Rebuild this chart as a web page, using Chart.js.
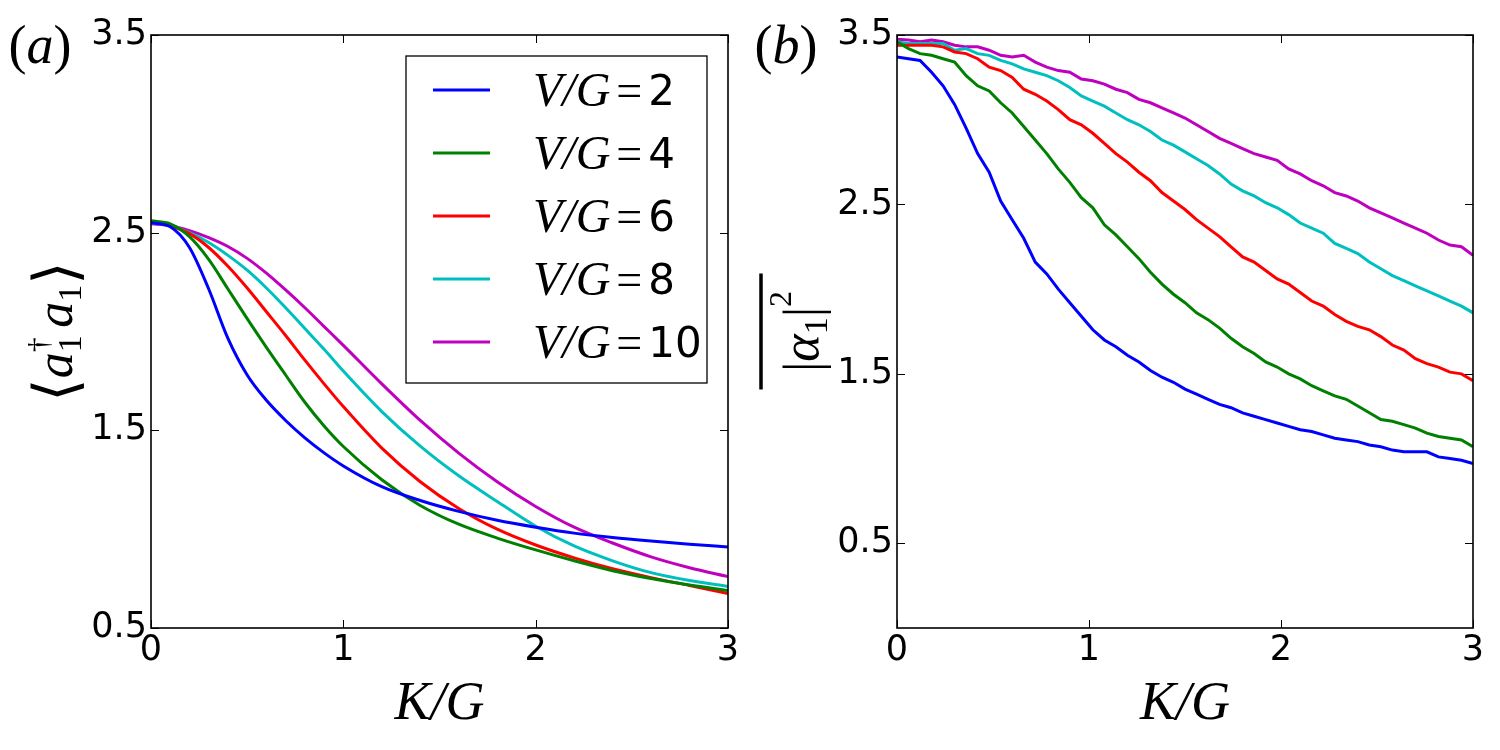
<!DOCTYPE html>
<html>
<head>
<meta charset="utf-8">
<script src="https://cdn.jsdelivr.net/npm/chart.js@4.4.0/dist/chart.umd.min.js"></script>
<style>
html, body { margin: 0; padding: 0; background: #fff; }
#wrap { position: relative; width: 1500px; height: 750px; }
.panel { position: absolute; top: 0; width: 750px; height: 750px; }
</style>
</head>
<body>
<div id="wrap">
  <div class="panel" style="left:0"><canvas id="chartA" width="750" height="750"></canvas></div>
  <div class="panel" style="left:750px"><canvas id="chartB" width="750" height="750"></canvas></div>
</div>
<script>
// Legend labels and colours (V/G values)
var vgValues = ['2', '4', '6', '8', '10'];
var lineColors = ['#0000ff', '#008000', '#ff0000', '#00bfbf', '#bf00bf'];

// Axis ticks
var xTicks = [0, 1, 2, 3];
var yTicksA = [0.5, 1.5, 2.5, 3.5];
var yTicksB = [0.5, 1.5, 2.5, 3.5];

// Panel (a): <a1^dagger a1> vs K/G
var kgA = [0, 0.1, 0.2, 0.3, 0.4, 0.5, 0.6, 0.7, 0.8, 0.9, 1.0, 1.2, 1.4, 1.6, 1.8, 2.0, 2.2, 2.4, 2.6, 2.8, 3.0];
var occ2  = [2.55, 2.53, 2.425, 2.215, 1.965, 1.78, 1.652, 1.55, 1.462, 1.386, 1.32, 1.215, 1.145, 1.09, 1.045, 1.01, 0.98, 0.958, 0.94, 0.924, 0.91];
var occ4  = [2.56, 2.545, 2.48, 2.365, 2.215, 2.065, 1.92, 1.78, 1.642, 1.522, 1.418, 1.25, 1.12, 1.025, 0.955, 0.895, 0.84, 0.79, 0.75, 0.717, 0.69];
var occ6  = [2.555, 2.535, 2.495, 2.425, 2.33, 2.22, 2.10, 1.98, 1.855, 1.735, 1.62, 1.41, 1.24, 1.105, 1.0, 0.92, 0.855, 0.80, 0.755, 0.715, 0.675];
var occ8  = [2.55, 2.535, 2.50, 2.45, 2.385, 2.31, 2.22, 2.12, 2.015, 1.91, 1.80, 1.595, 1.42, 1.27, 1.14, 1.015, 0.915, 0.84, 0.78, 0.74, 0.71];
var occ10 = [2.545, 2.535, 2.51, 2.475, 2.43, 2.37, 2.295, 2.21, 2.12, 2.025, 1.93, 1.735, 1.55, 1.385, 1.24, 1.115, 1.01, 0.93, 0.86, 0.805, 0.76];

// Panel (b): mean |alpha1|^2 vs K/G
var kgB = [0, 0.06, 0.12, 0.18, 0.24, 0.30, 0.36, 0.42, 0.48, 0.54, 0.60, 0.66, 0.72, 0.78, 0.84, 0.90, 0.96,
           1.02, 1.08, 1.14, 1.20, 1.26, 1.32, 1.38, 1.44, 1.50, 1.56, 1.62, 1.68, 1.74, 1.80, 1.86, 1.92, 1.98,
           2.04, 2.10, 2.16, 2.22, 2.28, 2.34, 2.40, 2.46, 2.52, 2.58, 2.64, 2.70, 2.76, 2.82, 2.88, 2.94, 3.00];
var amp2  = [3.37, 3.36, 3.35, 3.28, 3.20, 3.09, 2.95, 2.80, 2.69, 2.52, 2.41, 2.30, 2.16, 2.09, 2.00, 1.92, 1.84,
             1.76, 1.70, 1.66, 1.61, 1.57, 1.52, 1.48, 1.45, 1.41, 1.38, 1.35, 1.32, 1.30, 1.27, 1.25, 1.23, 1.21,
             1.19, 1.17, 1.16, 1.14, 1.12, 1.11, 1.10, 1.08, 1.07, 1.05, 1.04, 1.04, 1.04, 1.01, 1.00, 0.99, 0.97];
var amp4  = [3.46, 3.42, 3.39, 3.38, 3.36, 3.34, 3.26, 3.20, 3.17, 3.10, 3.04, 2.96, 2.88, 2.80, 2.71, 2.63, 2.54,
             2.48, 2.38, 2.32, 2.25, 2.18, 2.10, 2.03, 1.97, 1.92, 1.86, 1.82, 1.77, 1.71, 1.66, 1.62, 1.57, 1.54,
             1.50, 1.47, 1.43, 1.40, 1.37, 1.35, 1.31, 1.27, 1.23, 1.22, 1.20, 1.18, 1.15, 1.13, 1.12, 1.11, 1.07];
var amp6  = [3.44, 3.44, 3.44, 3.44, 3.43, 3.40, 3.39, 3.36, 3.31, 3.29, 3.25, 3.18, 3.15, 3.11, 3.06, 3.00, 2.97,
             2.92, 2.86, 2.80, 2.75, 2.69, 2.64, 2.57, 2.52, 2.47, 2.41, 2.36, 2.31, 2.25, 2.19, 2.16, 2.11, 2.06,
             2.03, 1.98, 1.93, 1.90, 1.85, 1.81, 1.78, 1.76, 1.72, 1.67, 1.64, 1.59, 1.56, 1.54, 1.51, 1.50, 1.46];
var amp8  = [3.46, 3.45, 3.45, 3.45, 3.45, 3.41, 3.42, 3.39, 3.38, 3.35, 3.33, 3.30, 3.28, 3.26, 3.23, 3.19, 3.14,
             3.11, 3.08, 3.04, 3.00, 2.97, 2.93, 2.88, 2.85, 2.81, 2.77, 2.73, 2.68, 2.62, 2.58, 2.55, 2.51, 2.48,
             2.44, 2.39, 2.36, 2.33, 2.27, 2.24, 2.21, 2.16, 2.12, 2.08, 2.05, 2.02, 1.99, 1.96, 1.93, 1.90, 1.86];
var amp10 = [3.475, 3.47, 3.46, 3.47, 3.46, 3.44, 3.43, 3.43, 3.41, 3.38, 3.37, 3.38, 3.34, 3.31, 3.29, 3.28, 3.24,
             3.23, 3.21, 3.18, 3.16, 3.12, 3.10, 3.07, 3.04, 3.01, 2.97, 2.93, 2.89, 2.86, 2.83, 2.80, 2.78, 2.76,
             2.71, 2.68, 2.64, 2.61, 2.57, 2.55, 2.52, 2.48, 2.45, 2.42, 2.39, 2.36, 2.33, 2.29, 2.26, 2.25, 2.20];

var SERIF = '"Liberation Serif", "DejaVu Serif", serif';
var SANS = '"DejaVu Sans", sans-serif';

function toPoints(xs, ys) {
    return xs.map(function (x, i) { return { x: x, y: ys[i] }; });
}

function makeDatasets(xs, seriesList, smooth) {
    return seriesList.map(function (ys, i) {
        return {
            label: vgValues[i],
            data: toPoints(xs, ys),
            borderColor: lineColors[i],
            backgroundColor: lineColors[i],
            borderWidth: 3,
            pointRadius: 0,
            fill: false,
            tension: 0,
            cubicInterpolationMode: smooth ? 'monotone' : 'default'
        };
    });
}

/**
 * Draws text made of several pieces (fonts / offsets), centred on (x, y), optionally rotated.
 * piece = [text, font, dy, noAdvance]
 */
function drawRich(ctx, pieces, x, y, angle) {
    ctx.save();
    ctx.translate(x, y);
    ctx.rotate(angle || 0);
    ctx.textBaseline = 'alphabetic';
    ctx.textAlign = 'left';
    ctx.fillStyle = '#000';
    var total = 0;
    pieces.forEach(function (p) {
        ctx.font = p[1];
        if (!p[3]) total += ctx.measureText(p[0]).width;
    });
    var cx = -total / 2;
    pieces.forEach(function (p) {
        ctx.font = p[1];
        ctx.fillText(p[0], cx, p[2] || 0);
        if (!p[3]) cx += ctx.measureText(p[0]).width;
    });
    ctx.restore();
    return total;
}

// Frame, inward ticks on all four sides, and the texts of each panel
var panelDecor = {
    id: 'panelDecor',
    afterDraw: function (chart, args, opts) {
        var ctx = chart.ctx, a = chart.chartArea;
        var xs = chart.scales.x, ys = chart.scales.y;
        ctx.save();
        ctx.strokeStyle = '#000';
        ctx.lineWidth = 1;
        ctx.beginPath();
        xs.ticks.forEach(function (t) {
            var px = Math.round(xs.getPixelForValue(t.value)) + 0.5;
            ctx.moveTo(px, a.bottom); ctx.lineTo(px, a.bottom - 8);
            ctx.moveTo(px, a.top); ctx.lineTo(px, a.top + 8);
        });
        ys.ticks.forEach(function (t) {
            var py = Math.round(ys.getPixelForValue(t.value)) + 0.5;
            ctx.moveTo(a.left, py); ctx.lineTo(a.left + 8, py);
            ctx.moveTo(a.right, py); ctx.lineTo(a.right - 8, py);
        });
        ctx.stroke();
        ctx.lineWidth = 1.6;
        ctx.strokeRect(a.left, a.top, a.right - a.left, a.bottom - a.top);
        ctx.restore();

        var midX = (a.left + a.right) / 2;
        var midY = (a.top + a.bottom) / 2;

        // x title K/G
        drawRich(ctx, [['K/G', 'italic 54px ' + SERIF, 0]], midX, 719, 0);

        // panel label
        drawRich(ctx, [['(', '54px ' + SERIF, 0], [opts.tag, 'italic 54px ' + SERIF, 0], [')', '54px ' + SERIF, 0]],
                 opts.tagX, 63, 0);

        // y title
        if (opts.kind === 'a') {
            drawRich(ctx, [
                ['\u27E8', '60px ' + SANS, 4],
                ['a', 'italic 52px ' + SERIF, 0],
                ['\u2020', '30px ' + SERIF, -24, true],
                ['1', '34px ' + SERIF, 9],
                [' ', '30px ' + SERIF, 0],
                ['a', 'italic 52px ' + SERIF, 0],
                ['1', '34px ' + SERIF, 9],
                ['\u27E9', '60px ' + SANS, 4]
            ], 72, midY, -Math.PI / 2);
        } else {
            drawRich(ctx, [
                ['|', '52px ' + SERIF, 2],
                ['\u03B1', 'italic 52px ' + SERIF, 0],
                ['1', '34px ' + SERIF, 9],
                ['|', '52px ' + SERIF, 2],
                ['2', '32px ' + SERIF, -27]
            ], 68, midY, -Math.PI / 2);
            ctx.save();
            ctx.strokeStyle = '#000';
            ctx.lineWidth = 3.5;
            ctx.beginPath();
            ctx.moveTo(11, midY - 58);
            ctx.lineTo(11, midY + 58);
            ctx.stroke();
            ctx.restore();
        }

        // legend (panel a only)
        if (opts.legend) {
            var L = opts.legend;
            ctx.save();
            ctx.fillStyle = '#fff';
            ctx.fillRect(L.x, L.y, L.w, L.h);
            ctx.strokeStyle = '#000';
            ctx.lineWidth = 1.3;
            ctx.strokeRect(L.x, L.y, L.w, L.h);
            chart.data.datasets.forEach(function (ds, i) {
                var ly = L.y + 34 + i * 63;
                ctx.strokeStyle = ds.borderColor;
                ctx.lineWidth = 3;
                ctx.beginPath();
                ctx.moveTo(L.x + 27, ly);
                ctx.lineTo(L.x + 84, ly);
                ctx.stroke();
                ctx.fillStyle = '#000';
                ctx.textBaseline = 'alphabetic';
                ctx.textAlign = 'left';
                var tx = L.x + 127;
                ctx.font = 'italic 48px ' + SERIF;
                ctx.fillText('V/G', tx, ly + 16);
                tx += ctx.measureText('V/G').width + 6;
                ctx.font = '46px ' + SERIF;
                ctx.fillText('=', tx, ly + 16);
                tx += ctx.measureText('=').width + 6;
                ctx.font = '42px ' + SANS;
                ctx.fillText(ds.label, tx, ly + 15);
            });
            ctx.restore();
        }
    }
};

function makeChart(canvasId, datasets, yMin, yMax, yTicks, leftWidth, rightPad, decor) {
    return new Chart(document.getElementById(canvasId), {
        type: 'line',
        data: { datasets: datasets },
        options: {
            responsive: false,
            animation: false,
            events: [],
            layout: { padding: { top: 35, right: rightPad, left: 0, bottom: 0 } },
            plugins: {
                legend: { display: false },
                tooltip: { enabled: false },
                panelDecor: decor
            },
            scales: {
                x: {
                    type: 'linear',
                    min: 0, max: 3,
                    afterBuildTicks: function (s) { s.ticks = xTicks.map(function (v) { return { value: v }; }); },
                    afterFit: function (s) { s.height = 122; },
                    grid: { display: false, drawTicks: false },
                    border: { display: false },
                    ticks: {
                        color: '#000',
                        padding: 2,
                        maxRotation: 0,
                        font: { family: SANS, size: 35 },
                        callback: function (v) { return String(v); }
                    }
                },
                y: {
                    type: 'linear',
                    min: yMin, max: yMax,
                    afterBuildTicks: function (s) { s.ticks = yTicks.map(function (v) { return { value: v }; }); },
                    afterFit: function (s) { s.width = leftWidth; },
                    grid: { display: false, drawTicks: false },
                    border: { display: false },
                    ticks: {
                        color: '#000',
                        padding: 4,
                        font: { family: SANS, size: 35 },
                        callback: function (v) { return Number(v).toFixed(1); }
                    }
                }
            }
        },
        plugins: [panelDecor]
    });
}

makeChart('chartA', makeDatasets(kgA, [occ2, occ4, occ6, occ8, occ10], true), 0.5, 3.5, yTicksA, 151, 22,
          { kind: 'a', tag: 'a', tagX: 40, legend: { x: 406, y: 56, w: 301, h: 327 } });
makeChart('chartB', makeDatasets(kgB, [amp2, amp4, amp6, amp8, amp10], false), 0, 3.5, yTicksB, 147, 27,
          { kind: 'b', tag: 'b', tagX: 36 });
</script>
</body>
</html>
